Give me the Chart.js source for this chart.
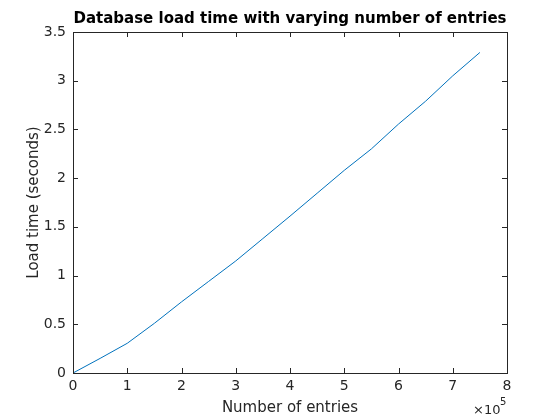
<!DOCTYPE html>
<html>
<head>
<meta charset="utf-8">
<script src="https://cdn.jsdelivr.net/npm/chart.js@4"></script>
<style>
  html, body { margin: 0; padding: 0; background: #fff; }
  #wrap { width: 560px; height: 420px; }
</style>
</head>
<body>
<div id="wrap"><canvas id="loadChart"></canvas></div>
<script>
// --- Datos ---
const entries = [0, 0.5, 1, 1.5, 2, 2.5, 3, 3.5, 4, 4.5, 5, 5.5, 6, 6.5, 7, 7.5]; // x 10^5
const loadTime = [0, 0.15, 0.305, 0.51, 0.73, 0.94, 1.15, 1.38, 1.61, 1.845, 2.08, 2.30, 2.555, 2.79, 3.05, 3.29];
const xTicks = [0, 1, 2, 3, 4, 5, 6, 7, 8];
const yTicks = [0, 0.5, 1, 1.5, 2, 2.5, 3, 3.5];

const titleText = 'Database load time with varying number of entries';
const xLabel = 'Number of entries';
const yLabel = 'Load time (seconds)';

const FONT = "'DejaVu Sans', sans-serif";
const INK = '#262626';

// caja estilo MATLAB + ticks hacia dentro + textos
const matlabBox = {
    id: 'matlabBox',
    afterDraw(chart) {
        const { ctx, chartArea: a, scales: { x, y } } = chart;
        ctx.save();
        ctx.strokeStyle = INK;
        ctx.lineWidth = 1;
        ctx.strokeRect(Math.round(a.left) + 0.5, Math.round(a.top) + 0.5,
            Math.round(a.right - a.left), Math.round(a.bottom - a.top));
        const len = 5;
        ctx.beginPath();
        xTicks.forEach(v => {
            const px = Math.round(x.getPixelForValue(v)) + 0.5;
            ctx.moveTo(px, a.bottom); ctx.lineTo(px, a.bottom - len);
            ctx.moveTo(px, a.top); ctx.lineTo(px, a.top + len);
        });
        yTicks.forEach(v => {
            const py = Math.round(y.getPixelForValue(v)) + 0.5;
            ctx.moveTo(a.left, py); ctx.lineTo(a.left + len, py);
            ctx.moveTo(a.right, py); ctx.lineTo(a.right - len, py);
        });
        ctx.stroke();

        ctx.fillStyle = '#000';
        ctx.textAlign = 'center';
        ctx.textBaseline = 'alphabetic';
        ctx.font = 'bold 15px ' + FONT;
        ctx.fillText(titleText, (a.left + a.right) / 2, 23);

        ctx.fillStyle = INK;
        ctx.font = '15px ' + FONT;
        ctx.fillText(xLabel, (a.left + a.right) / 2, 412);

        ctx.save();
        ctx.translate(38, (a.top + a.bottom) / 2);
        ctx.rotate(-Math.PI / 2);
        ctx.fillText(yLabel, 0, 0);
        ctx.restore();

        // multiplicador del eje x
        ctx.textAlign = 'left';
        ctx.font = '13px ' + FONT;
        ctx.fillText('\u00d710', a.right - 34, 414);
        ctx.font = '10px ' + FONT;
        ctx.fillText('5', a.right - 7, 405);
        ctx.restore();
    }
};

new Chart(document.getElementById('loadChart'), {
    type: 'line',
    data: {
        labels: entries,
        datasets: [{
            data: entries.map((e, i) => ({ x: e, y: loadTime[i] })),
            borderColor: '#0072BD',
            borderWidth: 1,
            pointRadius: 0,
            tension: 0,
            fill: false
        }]
    },
    options: {
        responsive: true,
        maintainAspectRatio: false,
        animation: false,
        devicePixelRatio: 1,
        layout: { padding: { left: 0, right: 53, top: 32, bottom: 0 } },
        scales: {
            x: {
                type: 'linear',
                min: 0, max: 8,
                afterFit: s => { s.height = 47; },
                afterBuildTicks: s => { s.ticks = xTicks.map(v => ({ value: v })); },
                grid: { display: false, drawTicks: false },
                border: { display: false },
                ticks: { color: INK, font: { family: FONT, size: 14 }, padding: 5, maxRotation: 0,
                    callback: v => String(v) }
            },
            y: {
                min: 0, max: 3.5,
                afterFit: s => { s.width = 73; },
                afterBuildTicks: s => { s.ticks = yTicks.map(v => ({ value: v })); },
                grid: { display: false, drawTicks: false },
                border: { display: false },
                ticks: { color: INK, font: { family: FONT, size: 14 }, padding: 7,
                    callback: v => String(v) }
            }
        },
        plugins: {
            legend: { display: false },
            title: { display: false },
            tooltip: { enabled: false }
        }
    },
    plugins: [matlabBox]
});
</script>
</body>
</html>
